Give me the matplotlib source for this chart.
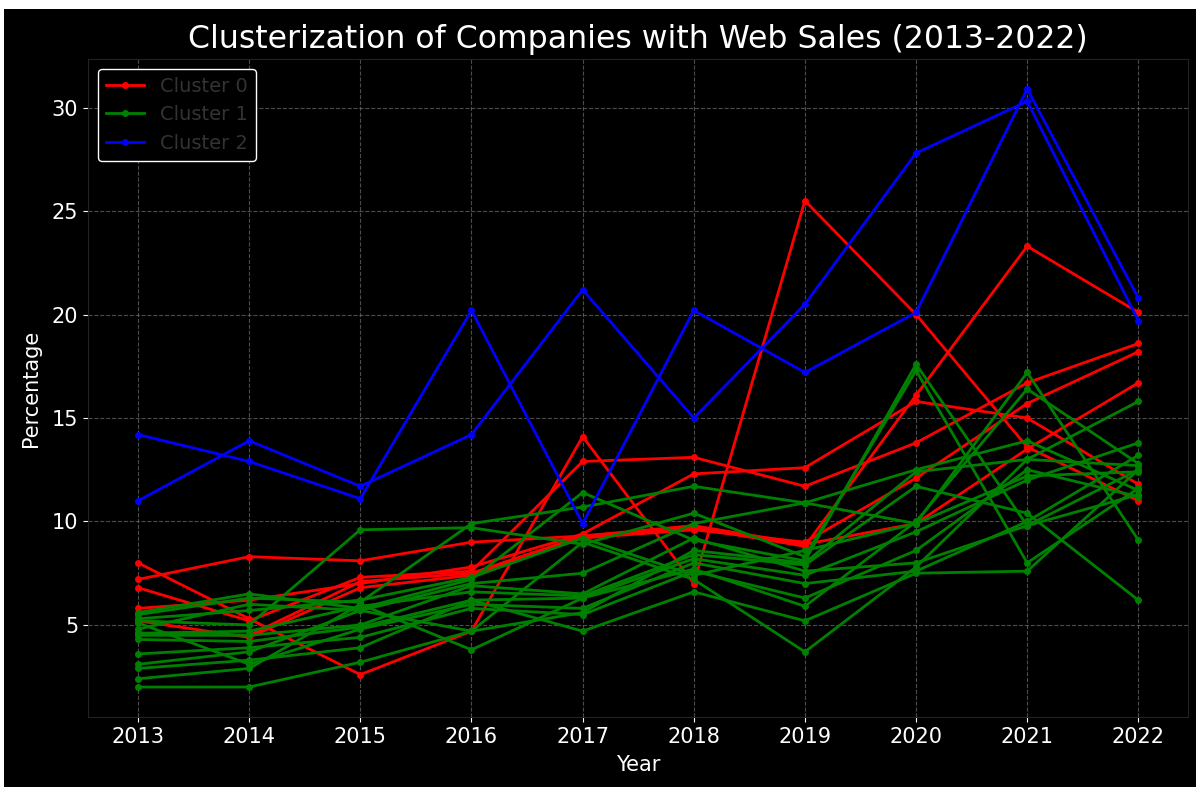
import matplotlib.pyplot as plt
from matplotlib.patches import Rectangle

# Years on the x axis
years = [2013, 2014, 2015, 2016, 2017, 2018, 2019, 2020, 2021, 2022]

# Cluster 0 (red) - web sales percentage per company
cluster0 = [
    [8.0, 5.3, 2.6, 4.7, 14.1, 7.0, 25.5, 20.0, 13.6, 11.0],
    [7.2, 8.3, 8.1, 9.0, 9.3, 9.7, 8.8, 16.1, 23.3, 20.1],
    [6.8, 5.2, 7.3, 7.6, 12.9, 13.1, 11.7, 13.8, 16.7, 18.6],
    [5.8, 6.2, 7.0, 7.8, 9.4, 12.3, 12.6, 15.8, 15.0, 11.8],
    [5.2, 4.4, 6.8, 7.4, 9.2, 9.6, 9.0, 12.1, 15.7, 18.2],
    [4.6, 4.5, 7.1, 7.5, 9.3, 9.8, 8.9, 9.9, 13.5, 16.7],
]

# Cluster 1 (green)
cluster1 = [
    [5.6, 6.5, 5.8, 7.2, 11.4, 9.1, 8.1, 17.6, 9.8, 12.5],
    [5.5, 6.3, 6.1, 9.9, 10.7, 11.7, 10.9, 9.9, 17.2, 9.1],
    [5.2, 5.0, 9.6, 9.7, 8.9, 10.4, 8.3, 17.3, 8.0, 11.6],
    [4.8, 6.0, 5.7, 7.0, 7.5, 9.9, 10.9, 12.5, 13.9, 11.5],
    [4.6, 4.7, 5.9, 6.6, 6.4, 8.4, 7.9, 11.7, 10.4, 6.2],
    [4.3, 4.2, 4.9, 6.2, 6.3, 8.2, 7.4, 9.5, 12.0, 13.8],
    [3.6, 3.9, 4.4, 5.8, 5.5, 7.6, 6.3, 8.6, 12.5, 11.2],
    [3.1, 3.7, 5.7, 4.7, 9.0, 7.2, 3.7, 7.8, 13.0, 15.8],
    [2.9, 3.3, 3.9, 6.2, 4.7, 6.6, 5.2, 7.5, 7.6, 12.5],
    [2.4, 2.9, 6.0, 3.8, 6.3, 7.7, 5.9, 10.0, 16.4, 12.8],
    [2.0, 2.0, 3.2, 4.7, 5.6, 8.6, 8.0, 12.4, 13.0, 12.7],
    [5.3, 5.7, 6.2, 7.3, 9.2, 7.4, 8.6, 9.9, 12.2, 12.4],
    [4.5, 4.5, 5.0, 6.9, 6.5, 9.2, 7.6, 8.0, 9.8, 11.3],
    [5.1, 3.1, 4.8, 6.0, 5.8, 8.0, 7.0, 7.6, 10.0, 13.2],
]

# Cluster 2 (blue)
cluster2 = [
    [11.0, 13.9, 11.7, 14.2, 21.2, 15.0, 20.5, 27.8, 30.3, 19.7],
    [14.2, 12.9, 11.1, 20.2, 9.9, 20.2, 17.2, 20.1, 30.9, 20.8],
]

clusters = [cluster0, cluster1, cluster2]
colors = ["red", "green", "blue"]
labels = ["Cluster 0", "Cluster 1", "Cluster 2"]

plt.style.use("dark_background")
fig = plt.figure(figsize=(11.96, 7.87), dpi=100, facecolor="white")
# black canvas with a thin white strip at the top, like the screenshot
fig.patches.append(Rectangle((0.003, -0.01), 1.01, 1.01 - 9 / 787, transform=fig.transFigure,
                             facecolor="black", edgecolor="none", zorder=-10))
ax = fig.add_axes([0.0736, 0.089, 0.920, 0.836])

for rows, color, label in zip(clusters, colors, labels):
    for i, row in enumerate(rows):
        ax.plot(years, row, color=color, marker="o", markersize=4,
                linewidth=2, label=label if i == 0 else None)

ax.set_title("Clusterization of Companies with Web Sales (2013-2022)",
             fontsize=22.7, color="white", pad=8)
ax.set_xlabel("Year", fontsize=15, labelpad=6)
ax.set_ylabel("Percentage", fontsize=15, labelpad=8)
ax.set_xticks(years)
ax.set_yticks([5, 10, 15, 20, 25, 30])
ax.tick_params(axis="both", labelsize=15)
ax.grid(True, linestyle="--", color="gray", alpha=0.6, linewidth=0.8)
for s in ax.spines.values():
    s.set_color("#222222")

leg = ax.legend(loc="upper left", fontsize=14, labelcolor="#333333",
                facecolor="black", edgecolor="white", framealpha=1)

fig.savefig("out.png", dpi=100, facecolor="white")
